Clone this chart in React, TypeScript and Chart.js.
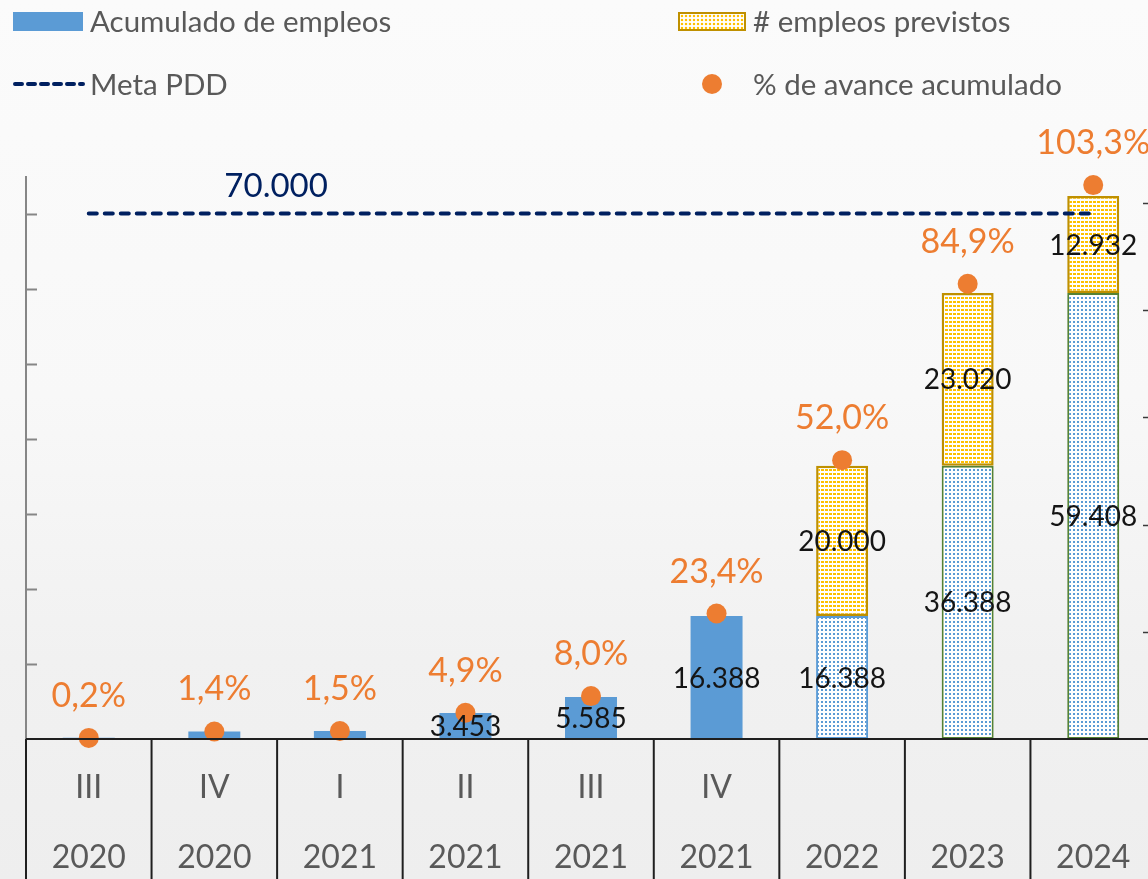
import React, { useEffect, useRef } from "react";
import { Chart, registerables } from "chart.js";

Chart.register(...registerables);

const QUARTERS = ["III", "IV", "I", "II", "III", "IV", "", "", ""];
const YEARS = ["2020", "2020", "2021", "2021", "2021", "2021", "2022", "2023", "2024"];
const ACUMULADO = [150, 1000, 1050, 3453, 5585, 16388, 16388, 36388, 59408];
const PREVISTOS = [null, null, null, null, null, null, 20000, 23020, 12932];
const AVANCE = [0.002, 0.014, 0.015, 0.049, 0.08, 0.234, 0.52, 0.849, 1.033];
const META = [70000, 70000, 70000, 70000, 70000, 70000, 70000, 70000, 70000];
const LABELED_FROM = 3;
const Y_TICKS = [10000, 20000, 30000, 40000, 50000, 60000, 70000];
const Y1_TICKS = [0.2, 0.4, 0.6, 0.8, 1.0];

const FONT = "Lato, 'Open Sans', sans-serif";
const GRAY_TEXT = "#595959";
const BLUE = "#5B9BD5";
const ORANGE = "#ED7D31";
const NAVY = "#002060";
const GOLD = "#BF9000";
const YELLOW = "#FFC000";
const GREEN = "#548235";

const fmtThousands = (v: number) => String(v).replace(/\B(?=(\d{3})+(?!\d))/g, ".");
const fmtPct = (v: number) => (v * 100).toFixed(1).replace(".", ",") + "%";

function makePattern(color: string, w: number, h: number): CanvasPattern | string {
  const c = document.createElement("canvas");
  c.width = 4;
  c.height = 4;
  const g = c.getContext("2d");
  if (!g) return color;
  g.fillStyle = "#ffffff";
  g.fillRect(0, 0, 4, 4);
  g.fillStyle = color;
  g.fillRect(1, 1, w, h);
  const p = g.createPattern(c, "repeat");
  return p || color;
}

const overlayPlugin = {
  id: "overlay",
  afterDatasetsDraw(chart: any) {
    const ctx: CanvasRenderingContext2D = chart.ctx;
    const { left, right, top, bottom } = chart.chartArea;
    const xs = chart.scales.x;
    const ys = chart.scales.y;
    const y1s = chart.scales.y1;
    const line = (x1: number, y1: number, x2: number, y2: number) => {
      ctx.beginPath();
      ctx.moveTo(x1, y1);
      ctx.lineTo(x2, y2);
      ctx.stroke();
    };
    ctx.save();
    ctx.strokeStyle = "#868686";
    ctx.lineWidth = 2;
    line(left, top, left, bottom);
    Y_TICKS.forEach((v) => {
      const py = Math.round(ys.getPixelForValue(v)) + 0.5;
      line(left, py, left + 11, py);
    });
    ctx.strokeStyle = "#3a3a3a";
    ctx.lineWidth = 1.5;
    Y1_TICKS.forEach((v) => {
      const py = Math.round(y1s.getPixelForValue(v)) + 0.5;
      line(right - 13, py, right, py);
    });
    ctx.strokeStyle = "#1f1f1f";
    ctx.lineWidth = 2;
    line(left, bottom, chart.width, bottom);
    for (let i = 0; i <= QUARTERS.length; i++) {
      const px = xs.getPixelForValue(i - 0.5);
      line(px, bottom, px, chart.height);
    }
    ctx.textAlign = "center";
    ctx.textBaseline = "middle";
    ctx.fillStyle = "#151515";
    ctx.font = `28px ${FONT}`;
    const m0 = chart.getDatasetMeta(0);
    m0.data.forEach((el: any, i: number) => {
      const v = ACUMULADO[i];
      if (i < LABELED_FROM || v == null) return;
      ctx.fillText(fmtThousands(v), el.x, (el.y + el.base) / 2 + 1);
    });
    const m1 = chart.getDatasetMeta(1);
    m1.data.forEach((el: any, i: number) => {
      const v = PREVISTOS[i];
      if (v == null) return;
      ctx.fillText(fmtThousands(v), el.x, (el.y + el.base) / 2 + 1);
    });
    ctx.fillStyle = ORANGE;
    ctx.font = `34px ${FONT}`;
    const m3 = chart.getDatasetMeta(3);
    m3.data.forEach((el: any, i: number) => {
      ctx.fillText(fmtPct(AVANCE[i]), el.x, el.y - 42);
    });
    ctx.fillStyle = NAVY;
    ctx.font = `33px ${FONT}`;
    ctx.fillText(fmtThousands(META[1]), xs.getPixelForValue(1.5) - 1, ys.getPixelForValue(META[1]) - 27);
    ctx.restore();
  },
};

export default function App() {
  const canvasRef = useRef<HTMLCanvasElement | null>(null);

  useEffect(() => {
    const canvas = canvasRef.current;
    if (!canvas) return;
    Chart.defaults.font.family = FONT;
    const bluePattern = makePattern(BLUE, 2, 2);
    const yellowPattern = makePattern(YELLOW, 3, 2);
    const blueBg = ACUMULADO.map((_, i) => (i < 6 ? BLUE : bluePattern));
    const blueBorder = ACUMULADO.map((_, i) => (i < 6 ? BLUE : i === 6 ? BLUE : GREEN));
    const blueBorderW = ACUMULADO.map((_, i) => (i < 6 ? 0 : 2));
    const labels = QUARTERS.map((q, i) => [q, YEARS[i]]);

    const chart = new Chart(canvas, {
      type: "bar",
      data: {
        labels,
        datasets: [
          {
            type: "bar",
            label: "Acumulado de empleos",
            data: ACUMULADO,
            backgroundColor: blueBg as any,
            borderColor: blueBorder,
            borderWidth: blueBorderW,
            borderSkipped: false,
            stack: "s",
            yAxisID: "y",
            barPercentage: 0.414,
            categoryPercentage: 1,
            order: 2,
          },
          {
            type: "bar",
            label: "# empleos previstos",
            data: PREVISTOS as any,
            backgroundColor: yellowPattern as any,
            borderColor: GOLD,
            borderWidth: 2.5,
            borderSkipped: false,
            stack: "s",
            yAxisID: "y",
            barPercentage: 0.414,
            categoryPercentage: 1,
            order: 2,
          },
          {
            type: "line",
            label: "Meta PDD",
            data: META,
            borderColor: NAVY,
            borderWidth: 4,
            borderDash: [8, 8],
            borderCapStyle: "round",
            pointRadius: 0,
            yAxisID: "y",
            order: 1,
            clip: false as any,
          },
          {
            type: "line",
            label: "% de avance acumulado",
            data: AVANCE,
            showLine: false,
            pointRadius: 10,
            pointHoverRadius: 10,
            pointBackgroundColor: ORANGE,
            pointBorderWidth: 0,
            borderColor: ORANGE,
            yAxisID: "y1",
            order: 0,
            clip: false as any,
          },
        ],
      },
      options: {
        responsive: false,
        animation: false,
        devicePixelRatio: 1,
        layout: { padding: { left: 26, right: 64, top: 176, bottom: 0 } },
        plugins: { legend: { display: false }, tooltip: { enabled: false }, title: { display: false } },
        scales: {
          x: {
            stacked: true,
            grid: { display: false, drawTicks: false },
            border: { display: false },
            ticks: {
              color: GRAY_TEXT,
              padding: 14,
              font: { size: 32, lineHeight: "70px" as any },
              maxRotation: 0,
              autoSkip: false,
            },
            afterFit: (s: any) => {
              s.height = 161;
            },
          },
          y: { display: false, stacked: true, min: 0, max: 75000 },
          y1: { display: false, position: "right", min: 0, max: 1.05 },
        },
      },
      plugins: [overlayPlugin],
    });
    return () => chart.destroy();
  }, []);

  const legendText: React.CSSProperties = {
    position: "absolute",
    fontFamily: FONT,
    fontSize: 29.5,
    color: GRAY_TEXT,
    lineHeight: "30px",
    whiteSpace: "nowrap",
  };

  return (
    <div
      style={{
        position: "fixed",
        left: 0,
        top: 0,
        width: 1148,
        height: 879,
        overflow: "hidden",
        background: "linear-gradient(to bottom, #FBFBFB 0%, #F8F8F8 45%, #F1F1F1 75%, #EEEEEE 100%)",
      }}
    >
      <canvas ref={canvasRef} width={1220} height={900} style={{ position: "absolute", left: 0, top: 0, width: 1220, height: 900 }} />
      <div style={{ position: "absolute", left: 13, top: 12, width: 70, height: 19, background: BLUE }} />
      <div style={{ ...legendText, left: 90, top: 6 }}>Acumulado de empleos</div>
      <svg style={{ position: "absolute", left: 10, top: 78 }} width={78} height={12}>
        <line x1={5} y1={6} x2={73} y2={6} stroke={NAVY} strokeWidth={4} strokeDasharray="7 6" strokeLinecap="round" />
      </svg>
      <div style={{ ...legendText, left: 90, top: 69 }}>Meta PDD</div>
      <div
        style={{
          position: "absolute",
          left: 678,
          top: 12,
          width: 64,
          height: 15,
          border: `2px solid ${GOLD}`,
          backgroundColor: "#fff",
          backgroundImage: `radial-gradient(circle, ${YELLOW} 1.4px, transparent 1.6px)`,
          backgroundSize: "4px 4px",
        }}
      />
      <div style={{ ...legendText, left: 753, top: 6 }}># empleos previstos</div>
      <div style={{ position: "absolute", left: 702, top: 74, width: 20, height: 20, borderRadius: 10, background: ORANGE }} />
      <div style={{ ...legendText, left: 753, top: 69 }}>% de avance acumulado</div>
    </div>
  );
}
